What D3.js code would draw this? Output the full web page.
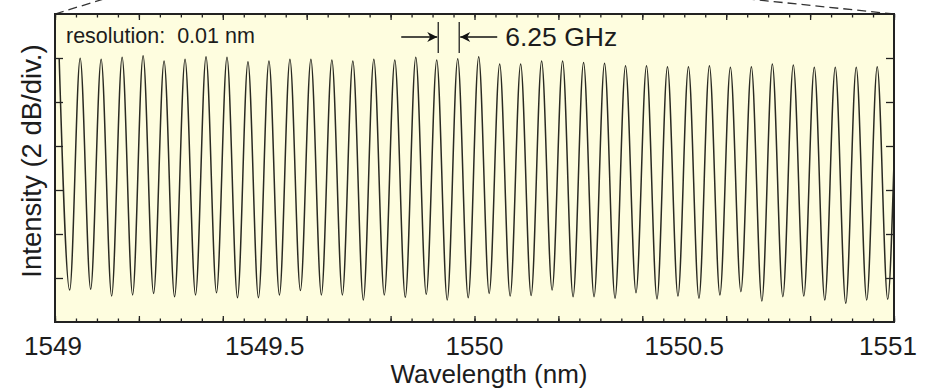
<!DOCTYPE html>
<html>
<head>
<meta charset="utf-8">
<script src="https://cdn.jsdelivr.net/npm/d3@7"></script>
<style>
  body { margin: 0; background: #fff; }
  text { font-family: "Liberation Sans", Arial, sans-serif; fill: #1c1c1c; }
</style>
</head>
<body>
<div id="viz_div"></div>
<script>
// DATA
// ---------------------------------------------------------------------------------
const xLabels = [1549, 1549.5, 1550, 1550.5, 1551];
const yDivisions = [2, 4, 6, 8, 10, 12];           // 2 dB per division, unlabeled

const peakWavelength = [
  1549.01, 1549.06, 1549.11, 1549.16, 1549.21, 1549.26, 1549.31, 1549.36, 1549.41, 1549.46,
  1549.51, 1549.56, 1549.61, 1549.66, 1549.71, 1549.76, 1549.81, 1549.86, 1549.91, 1549.96,
  1550.01, 1550.06, 1550.11, 1550.16, 1550.21, 1550.26, 1550.31, 1550.36, 1550.41, 1550.46,
  1550.51, 1550.56, 1550.61, 1550.66, 1550.71, 1550.76, 1550.81, 1550.86, 1550.91, 1550.96
];
const peakLevel = [
  11.95, 11.99, 11.94, 12.03, 12.10, 11.86, 11.94, 12.06, 12.03, 11.83,
  11.86, 11.94, 11.94, 11.91, 11.86, 11.94, 11.91, 12.03, 11.91, 11.97,
  12.06, 11.73, 11.73, 11.86, 11.86, 11.79, 11.76, 11.65, 11.65, 11.60,
  11.60, 11.65, 11.58, 11.60, 11.73, 11.68, 11.58, 11.58, 11.58, 11.60
];
const troughWavelength = [
  1549.035, 1549.085, 1549.135, 1549.185, 1549.235, 1549.285, 1549.335, 1549.385, 1549.435, 1549.485,
  1549.535, 1549.585, 1549.635, 1549.685, 1549.735, 1549.785, 1549.835, 1549.885, 1549.935, 1549.985,
  1550.035, 1550.085, 1550.135, 1550.185, 1550.235, 1550.285, 1550.335, 1550.385, 1550.435, 1550.485,
  1550.535, 1550.585, 1550.635, 1550.685, 1550.735, 1550.785, 1550.835, 1550.885, 1550.935, 1550.985
];
const troughLevel = [
  1.45, 1.49, 1.18, 1.23, 1.30, 1.15, 1.23, 1.33, 1.10, 1.10,
  1.23, 1.43, 1.23, 1.23, 1.00, 1.23, 1.12, 1.26, 1.00, 1.10,
  1.30, 1.18, 1.20, 1.45, 1.15, 1.15, 1.08, 1.33, 1.05, 1.18,
  1.08, 1.23, 1.38, 0.95, 1.15, 1.18, 1.00, 0.85, 1.00, 1.03
];
// where the trace leaves the right edge
const edgeWavelength = [1551];
const edgeLevel = [7.3];

const resolutionLabel = "resolution:  0.01 nm";
const spacingLabel = "6.25 GHz";
const markedPeaks = [18, 19];

// SCALES
// ---------------------------------------------------------------------------------
const W = 926, H = 391;
const margin = { top: 14, right: 32, bottom: 69, left: 55 };
const x = d3.scaleLinear([1549, 1551], [margin.left, W - margin.right]);
const y = d3.scaleLinear([0, 14], [H - margin.bottom, margin.top]);

const svg = d3.select("#viz_div").append("svg")
  .attr("width", W)
  .attr("height", H);

// PLOT BACKGROUND
svg.append("rect")
  .attr("x", x(1549)).attr("y", y(14))
  .attr("width", x(1551) - x(1549)).attr("height", y(0) - y(14))
  .attr("fill", "#fefddf");

// dashed zoom lines from the panel above
svg.append("line")
  .attr("x1", x(1549)).attr("y1", y(14)).attr("x2", x(1549) + 52).attr("y2", y(14) - 16)
  .attr("stroke", "#333").attr("stroke-width", 1.3).attr("stroke-dasharray", "9,5");
svg.append("line")
  .attr("x1", x(1551)).attr("y1", y(14)).attr("x2", x(1551) - 155).attr("y2", y(14) - 16)
  .attr("stroke", "#333").attr("stroke-width", 1.3).attr("stroke-dasharray", "9,5");

// TRACE
// ---------------------------------------------------------------------------------
const points = [];
peakWavelength.forEach((w, i) => {
  points.push([w, peakLevel[i]]);
  points.push([troughWavelength[i], troughLevel[i]]);
});
edgeWavelength.forEach((w, i) => points.push([w, edgeLevel[i]]));

svg.append("clipPath").attr("id", "plotclip")
  .append("rect")
  .attr("x", x(1549)).attr("y", y(14))
  .attr("width", x(1551) - x(1549)).attr("height", y(0) - y(14));

svg.append("path")
  .datum(points)
  .attr("clip-path", "url(#plotclip)")
  .attr("fill", "none")
  .attr("stroke", "#2a2a22")
  .attr("stroke-width", 1.5)
  .attr("stroke-linejoin", "round")
  .attr("d", d3.line()
    .x(d => x(d[0]))
    .y(d => y(d[1]))
    .curve(d3.curveMonotoneX));

// AXES (ticks inside, no labels except bottom)
// ---------------------------------------------------------------------------------
function styleAxis(g) {
  g.select(".domain").remove();
  g.selectAll(".tick line").attr("stroke", "#222").attr("stroke-width", 1.3);
  g.selectAll(".tick text").remove();
}
const minorTicks = x.ticks(40);
const majorTicks = x.ticks(8);

[[d3.axisBottom, y(0)], [d3.axisTop, y(14)]].forEach(([axisFn, pos]) => {
  svg.append("g").attr("transform", `translate(0,${pos})`)
    .call(axisFn(x).tickValues(minorTicks).tickSize(-3.5).tickFormat(""))
    .call(styleAxis);
  svg.append("g").attr("transform", `translate(0,${pos})`)
    .call(axisFn(x).tickValues(majorTicks).tickSize(-6).tickFormat(""))
    .call(styleAxis);
});

svg.append("g").attr("transform", `translate(${x(1549)},0)`)
  .call(d3.axisLeft(y).tickValues(yDivisions).tickSize(-8).tickFormat(""))
  .call(styleAxis);
svg.append("g").attr("transform", `translate(${x(1551)},0)`)
  .call(d3.axisRight(y).tickValues(yDivisions).tickSize(-8).tickFormat(""))
  .call(styleAxis);

// frame
svg.append("rect")
  .attr("x", x(1549)).attr("y", y(14))
  .attr("width", x(1551) - x(1549)).attr("height", y(0) - y(14))
  .attr("fill", "none").attr("stroke", "#222").attr("stroke-width", 2);

// tick labels
svg.selectAll("text.xlabel")
  .data(xLabels)
  .enter().append("text")
  .attr("class", "xlabel")
  .attr("x", (d, i) => x(d) + (i === xLabels.length - 1 ? -6 : (i === 0 ? -2 : 0)))
  .attr("y", 355)
  .attr("text-anchor", "middle")
  .style("font-size", "26px")
  .text(d => d);

// AXIS TITLES
// ---------------------------------------------------------------------------------
svg.append("text")
  .attr("x", 489)
  .attr("y", 383)
  .attr("text-anchor", "middle")
  .style("font-size", "26px")
  .text("Wavelength (nm)");

svg.append("text")
  .attr("transform", `translate(41,161) rotate(-90)`)
  .attr("text-anchor", "middle")
  .style("font-size", "27.5px")
  .text("Intensity (2 dB/div.)");

// ANNOTATIONS
// ---------------------------------------------------------------------------------
svg.append("text")
  .attr("x", 66)
  .attr("y", 43)
  .style("font-size", "21.5px")
  .style("white-space", "pre")
  .text(resolutionLabel);

const defs = svg.append("defs");
defs.append("marker")
  .attr("id", "arrowhead")
  .attr("viewBox", "0 0 10 10")
  .attr("refX", 10).attr("refY", 5)
  .attr("markerWidth", 11).attr("markerHeight", 10)
  .attr("markerUnits", "userSpaceOnUse")
  .attr("orient", "auto")
  .append("path")
  .attr("d", "M0,0 L10,5 L0,10 L3,5 Z")
  .attr("fill", "#111");

const xa = x(peakWavelength[markedPeaks[0]]) + 1.5;
const xb = x(peakWavelength[markedPeaks[1]]) + 1.5;
[xa, xb].forEach(xv => {
  svg.append("line")
    .attr("x1", xv).attr("x2", xv).attr("y1", 22).attr("y2", 53)
    .attr("stroke", "#222").attr("stroke-width", 1.3);
});
svg.append("line")
  .attr("x1", xa - 37).attr("x2", xa - 1).attr("y1", 37).attr("y2", 37)
  .attr("stroke", "#111").attr("stroke-width", 1.6)
  .attr("marker-end", "url(#arrowhead)");
svg.append("line")
  .attr("x1", xb + 38).attr("x2", xb + 1).attr("y1", 37).attr("y2", 37)
  .attr("stroke", "#111").attr("stroke-width", 1.6)
  .attr("marker-end", "url(#arrowhead)");

svg.append("text")
  .attr("x", xb + 46)
  .attr("y", 46)
  .style("font-size", "26.5px")
  .text(spacingLabel);
</script>
</body>
</html>
